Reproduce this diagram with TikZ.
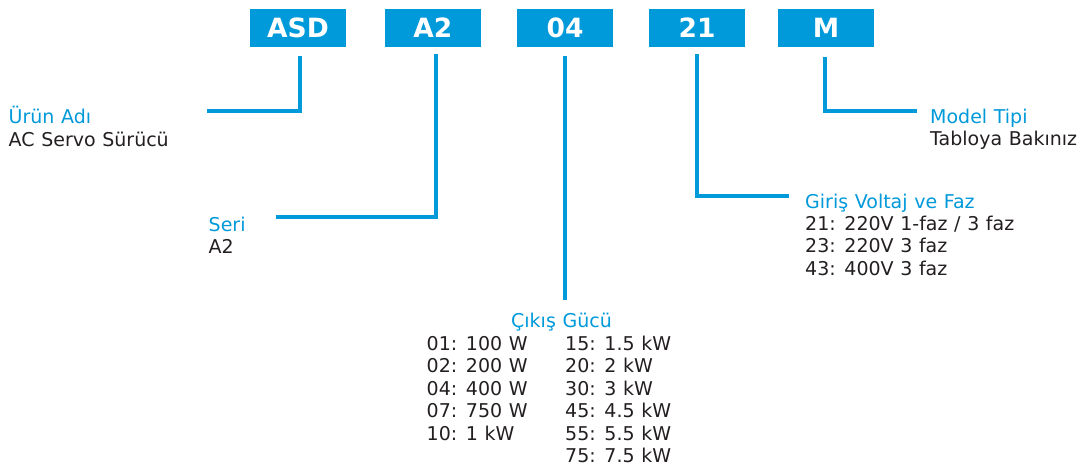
\documentclass[tikz,border=0pt]{standalone}
\usepackage{fontspec}
\setmainfont[WordSpace=1.1]{DejaVu Sans}
\definecolor{cblue}{RGB}{0,153,218}
\definecolor{ctext}{RGB}{35,31,32}
\begin{document}
\begin{tikzpicture}[x=1pt,y=-1pt,
  codebox/.style={fill=cblue, minimum width=96pt, minimum height=37.7pt, inner sep=0pt, text=white, font=\bfseries\fontsize{26.5}{30}\selectfont},
  conn/.style={draw=cblue, line width=3.8pt},
  ttl/.style={text=cblue, anchor=base west, inner sep=0pt, font=\fontsize{19}{22.5}\selectfont},
  body/.style={text=ctext, anchor=base west, inner sep=0pt, font=\fontsize{19}{22.5}\selectfont}]
\useasboundingbox (0,0) rectangle (1080,469);
% code boxes
\node[codebox] (asd) at (298,27.85) {ASD};
\node[codebox] (a2)  at (432.85,27.85) {A2};
\node[codebox] (c04) at (565,27.85) {04};
\node[codebox] (c21) at (697,27.85) {21};
\node[codebox] (cm)  at (826,27.85) {M};
% connector end points
\coordinate (asdtop) at (300,56);
\coordinate (asdend) at (207,110.7);
\coordinate (a2top) at (436,54);
\coordinate (a2end) at (276,216.7);
\coordinate (c04top) at (565,56);
\coordinate (c04end) at (565,300);
\coordinate (c21top) at (696.7,54);
\coordinate (c21end) at (789,196);
\coordinate (cmtop) at (825,57);
\coordinate (cmend) at (916.7,110.7);
\draw[conn] (asdtop) |- (asdend);
\draw[conn] (a2top) |- (a2end);
\draw[conn] (c04top) -- (c04end);
\draw[conn] (c21top) |- (c21end);
\draw[conn] (cmtop) |- (cmend);
% labels
\node[ttl] (urunT) at (8.5,123.3) {Ürün Adı};
\node[body] (urunB) at (8.5,146) {AC Servo Sürücü};
\node[ttl] (seriT) at (208.5,231.7) {Seri};
\node[body] (seriB) at (208.5,253.3) {A2};
\node[ttl] (modelT) at (930,123.3) {Model Tipi};
\node[body] (modelB) at (930,145) {Tabloya Bakınız};
\node[ttl] (girisT) at (805,208.3) {Giriş Voltaj ve Faz};
\node[body] (girisB) at (805,230) {\begin{tabular}[t]{@{}l@{}}21: 220V 1-faz / 3 faz\\23: 220V 3 faz\\43: 400V 3 faz\end{tabular}};
\node[ttl] (cikisT) at (511,327.3) {Çıkış Gücü};
\node[body] (cikisL) at (426.5,350) {\begin{tabular}[t]{@{}l@{}}01: 100 W\\02: 200 W\\04: 400 W\\07: 750 W\\10: 1 kW\end{tabular}};
\node[body] (cikisR) at (565,350) {\begin{tabular}[t]{@{}l@{}}15: 1.5 kW\\20: 2 kW\\30: 3 kW\\45: 4.5 kW\\55: 5.5 kW\\75: 7.5 kW\end{tabular}};
\end{tikzpicture}
\end{document}
